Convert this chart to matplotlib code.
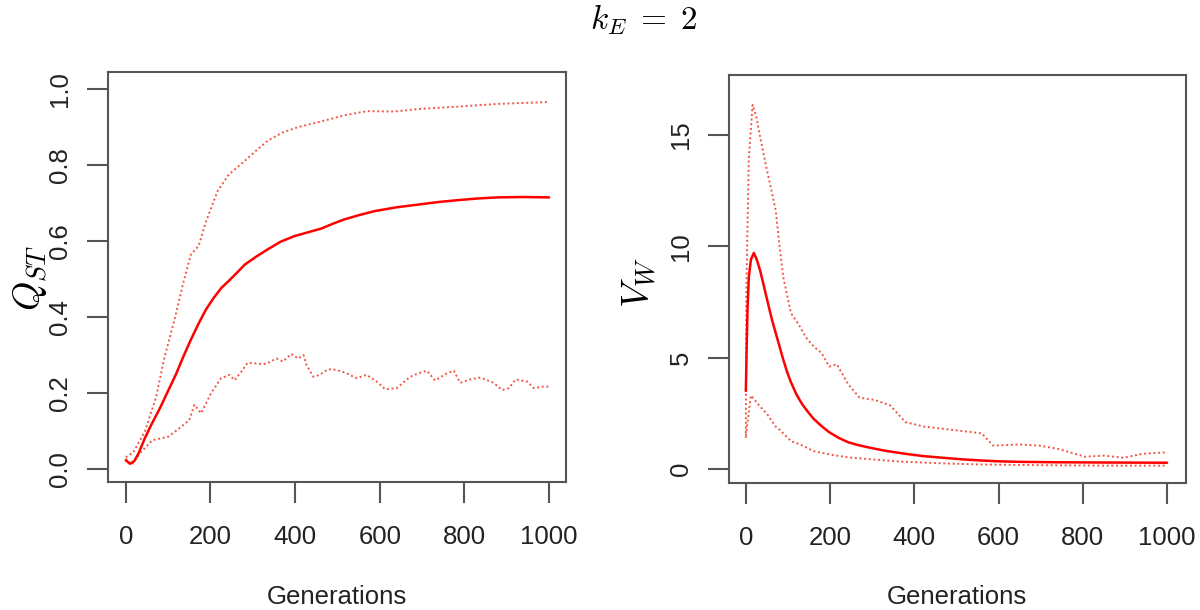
import matplotlib
matplotlib.use("Agg")
import matplotlib.pyplot as plt

plt.rcParams['font.family'] = ['Liberation Sans', 'DejaVu Sans']
plt.rcParams['mathtext.fontset'] = 'cm'

title = r'$k_E\;=\;2$'
xlabel = 'Generations'
left_ylabel = r'$Q_{ST}$'
right_ylabel = r'$V_W$'

x_ticks = [0, 200, 400, 600, 800, 1000]
q_ticks = [0.0, 0.2, 0.4, 0.6, 0.8, 1.0]
q_ticklabels = ['0.0', '0.2', '0.4', '0.6', '0.8', '1.0']
v_ticks = [0, 5, 10, 15]
v_ticklabels = ['0', '5', '10', '15']

# Q_ST mean (solid)
q_mean_x = [0, 10, 20, 30, 45, 60, 81, 100, 118, 136, 154, 172, 190, 208, 226, 244, 262, 281, 308, 335,
            365, 398, 430, 462, 490, 516, 550, 588, 640, 697, 740, 787, 830, 878, 940, 1000]
q_mean_y = [0.022, 0.013, 0.02, 0.04, 0.08, 0.115, 0.16, 0.205, 0.247, 0.295, 0.34, 0.382, 0.42, 0.45,
            0.476, 0.495, 0.515, 0.537, 0.558, 0.577, 0.597, 0.612, 0.622, 0.632, 0.645, 0.656, 0.667,
            0.678, 0.688, 0.696, 0.702, 0.707, 0.711, 0.714, 0.715, 0.714]

# Q_ST upper quantile (dotted)
q_up_x = [0, 18, 45, 72, 90, 118, 136, 154, 172, 190, 217, 244, 281, 308, 335, 371, 407, 462, 516, 570,
          633, 697, 787, 878, 1000]
q_up_y = [0.03, 0.044, 0.097, 0.19, 0.286, 0.405, 0.49, 0.564, 0.586, 0.652, 0.731, 0.775, 0.81, 0.837,
          0.863, 0.885, 0.899, 0.914, 0.93, 0.941, 0.94, 0.947, 0.953, 0.96, 0.965]

# Q_ST lower quantile (dotted)
q_lo_x = [0, 14, 36, 63, 100, 126, 150, 162, 178, 201, 225, 245, 257, 273, 288, 316, 332, 356, 371, 391,
          407, 420, 427, 443, 458, 478, 498, 522, 545, 569, 593, 613, 640, 672, 691, 711, 731, 755, 775,
          790, 814, 838, 869, 889, 905, 921, 949, 964, 984, 1000]
q_lo_y = [0.026, 0.01, 0.044, 0.075, 0.084, 0.106, 0.128, 0.168, 0.146, 0.198, 0.238, 0.247, 0.233,
          0.255, 0.279, 0.276, 0.276, 0.29, 0.282, 0.302, 0.29, 0.299, 0.273, 0.242, 0.247, 0.262, 0.26,
          0.251, 0.238, 0.247, 0.229, 0.209, 0.212, 0.242, 0.251, 0.258, 0.232, 0.249, 0.258, 0.226,
          0.235, 0.24, 0.226, 0.207, 0.212, 0.235, 0.229, 0.212, 0.216, 0.216]

# V_W mean (solid)
v_mean_x = [0, 2, 4, 7, 12, 19, 26, 34, 43, 53, 62, 71, 80, 89, 98, 107, 120, 134, 148, 161, 180, 198,
            220, 243, 265, 288, 330, 379, 420, 470, 515, 560, 605, 651, 742, 850, 1000]
v_mean_y = [3.5, 5.5, 7.2, 8.6, 9.4, 9.7, 9.4, 8.9, 8.2, 7.4, 6.7, 6.1, 5.5, 4.9, 4.35, 3.9, 3.35, 2.9,
            2.55, 2.25, 1.92, 1.65, 1.4, 1.2, 1.08, 0.98, 0.82, 0.68, 0.58, 0.5, 0.43, 0.38, 0.34, 0.32,
            0.3, 0.29, 0.28]

# V_W upper quantile (dotted)
v_up_x = [0, 1, 7, 16, 25, 34, 48, 62, 71, 80, 89, 107, 125, 143, 161, 180, 198, 216, 243, 270, 306, 343,
          379, 424, 470, 515, 560, 587, 651, 696, 742, 805, 851, 896, 941, 1000]
v_up_y = [1.4, 7.9, 13.9, 16.35, 15.8, 14.9, 13.6, 12.4, 11.6, 10.0, 8.6, 7.0, 6.5, 5.9, 5.5, 5.2, 4.6,
          4.7, 3.8, 3.2, 3.1, 2.85, 2.1, 1.9, 1.8, 1.7, 1.6, 1.05, 1.1, 1.05, 0.9, 0.55, 0.6, 0.5, 0.68,
          0.75]

# V_W lower quantile (dotted)
v_lo_x = [0, 12, 34, 49, 71, 81, 107, 129, 161, 208, 243, 287, 367, 470, 560, 700, 850, 1000]
v_lo_y = [1.5, 3.3, 2.8, 2.5, 1.9, 1.75, 1.25, 1.1, 0.8, 0.62, 0.52, 0.45, 0.33, 0.25, 0.2, 0.17, 0.15,
          0.15]

fig = plt.figure(figsize=(12, 6.1), dpi=100)

W, H = 1200.0, 610.0
axL = fig.add_axes([108 / W, 1 - 482 / H, (566 - 108) / W, (482 - 72) / H])
axR = fig.add_axes([729 / W, 1 - 483 / H, (1186 - 729) / W, (483 - 75) / H])

solid_kw = dict(color='#ff0000', lw=1.8, solid_capstyle='round', solid_joinstyle='round')
dot_kw = dict(color='#f05545', lw=1.4, linestyle=(0, (1.0, 1.4)))

axL.plot(q_up_x, q_up_y, **dot_kw)
axL.plot(q_lo_x, q_lo_y, **dot_kw)
axL.plot(q_mean_x, q_mean_y, **solid_kw)

axR.plot(v_up_x, v_up_y, **dot_kw)
axR.plot(v_lo_x, v_lo_y, **dot_kw)
axR.plot(v_mean_x, v_mean_y, **solid_kw)

axL.set_xlim(-42, 1040)
axL.set_ylim(-0.035, 1.044)
axR.set_xlim(-40, 1045)
axR.set_ylim(-0.63, 17.69)

for ax, yt, ytl in [(axL, q_ticks, q_ticklabels), (axR, v_ticks, v_ticklabels)]:
    ax.set_xticks(x_ticks)
    ax.set_xticklabels([str(t) for t in x_ticks])
    ax.set_yticks(yt)
    ax.set_yticklabels(ytl, rotation=90, va='center')
    for s in ax.spines.values():
        s.set_color('#555555')
        s.set_linewidth(1.5)
    ax.tick_params(axis='both', length=15, width=1.5, color='#555555',
                   labelsize=18.5, labelcolor='#222222', direction='out')
    ax.tick_params(axis='x', pad=16)
    ax.tick_params(axis='y', pad=11)
    ax.set_facecolor('white')

fig.text(337 / W, 1 - 597 / H, xlabel, ha='center', va='center', fontsize=18.5, color='#222222')
fig.text(957 / W, 1 - 597 / H, xlabel, ha='center', va='center', fontsize=18.5, color='#222222')
fig.text(30 / W, 1 - 278 / H, left_ylabel, ha='center', va='center', rotation=90, fontsize=27)
fig.text(640 / W, 1 - 282 / H, right_ylabel, ha='center', va='center', rotation=90, fontsize=27)
fig.text(644 / W, 1 - 20 / H, title, ha='center', va='center', fontsize=24)

fig.savefig('out.png', dpi=100, facecolor='white')
